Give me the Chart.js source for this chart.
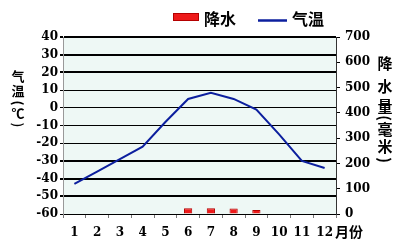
<!DOCTYPE html>
<html lang="zh">
<head>
    <meta charset="UTF-8">
    <title>气温与降水</title>
    <style>
        html, body { margin: 0; padding: 0; background: #fff; }
        #wrap { width: 406px; height: 250px; }
    </style>
</head>
<body>

<div id="wrap">
    <canvas id="myChart" width="406" height="250" role="img" aria-label="气温与降水量图"></canvas>
</div>

<script src="https://cdn.jsdelivr.net/npm/chart.js@4/dist/chart.umd.min.js"></script>

<script>
    // data
    var months = ['1', '2', '3', '4', '5', '6', '7', '8', '9', '10', '11', '12'];
    var temperature = [-43, -36, -29, -22, -8, 5, 8.5, 5, -1, -15, -30, -34];
    var precipitation = [0, 0, 0, 0, 2, 23, 23, 22, 16, 2, 2, 0];
    var tempTicks = [-60, 40, 10];     // min, max, step
    var rainTicks = [0, 700, 100];

    // gridlines that are drawn heavier in the original
    var heavyLines = [40, 30, 20, -30, -40, -50];

    var numFont = { family: 'DejaVu Serif', weight: 'bold', size: 12 };
    var cjkFont = '"Noto Sans CJK SC", "Noto Sans", sans-serif';

    // vertical title, one char per row; brackets are turned on their side
    function drawColumn(ctx, chars, x, ys, size) {
        ctx.font = 'bold ' + size + 'px ' + cjkFont;
        ctx.textAlign = 'center';
        ctx.textBaseline = 'middle';
        for (var i = 0; i < chars.length; i++) {
            if (chars[i] === '(' || chars[i] === ')') {
                ctx.save();
                ctx.translate(x, ys[i]);
                ctx.rotate(Math.PI / 2);
                ctx.fillText(chars[i], 0, 0);
                ctx.restore();
            } else {
                ctx.fillText(chars[i], x, ys[i]);
            }
        }
    }

    var decorations = {
        id: 'decorations',
        beforeDraw: function (chart) {
            var ctx = chart.ctx;
            var a = chart.chartArea;
            ctx.save();
            ctx.fillStyle = '#eef8f5';
            ctx.fillRect(a.left, a.top, a.right - a.left, a.bottom - a.top);
            ctx.restore();
        },
        afterDraw: function (chart) {
            var ctx = chart.ctx;
            var ds = chart.data.datasets;
            ctx.save();

            // legend
            ctx.fillStyle = ds[0].backgroundColor;
            ctx.strokeStyle = ds[0].borderColor;
            ctx.lineWidth = 1;
            ctx.fillRect(173, 13, 26, 8);
            ctx.strokeRect(173.5, 13.5, 25, 7);
            ctx.fillStyle = '#000';
            ctx.font = 'bold 16px ' + cjkFont;
            ctx.textAlign = 'left';
            ctx.textBaseline = 'middle';
            ctx.fillText(ds[0].label, 204, 19);

            ctx.strokeStyle = ds[1].borderColor;
            ctx.lineWidth = 2.5;
            ctx.beginPath();
            ctx.moveTo(258, 20.5);
            ctx.lineTo(287, 20.5);
            ctx.stroke();
            ctx.fillText(ds[1].label, 292, 19);

            // axis titles
            drawColumn(ctx, ['气', '温', '(', '℃', ')'], 18, [76, 91, 103, 113, 125], 13);
            drawColumn(ctx, ['降', '水', '量', '(', '毫', '米', ')'], 385, [63, 86, 106, 118, 129, 146, 160], 15);

            ctx.font = 'bold 14px ' + cjkFont;
            ctx.textAlign = 'left';
            ctx.fillText('月份', 335, 232);
            ctx.restore();
        }
    };

    var ctx = document.getElementById('myChart').getContext('2d');
    var myChart = new Chart(ctx, {
        type: 'bar',
        data: {
            labels: months,
            datasets: [
                {
                    label: '降水',
                    data: precipitation,
                    yAxisID: 'y1',
                    backgroundColor: '#ee1a1a',
                    borderColor: '#b40000',
                    borderWidth: 1,
                    barPercentage: 0.4,
                    categoryPercentage: 0.9,
                    order: 2
                },
                {
                    type: 'line',
                    label: '气温',
                    data: temperature,
                    yAxisID: 'y',
                    borderColor: '#0c1f9e',
                    borderWidth: 2,
                    pointRadius: 0,
                    tension: 0,
                    order: 1
                }
            ]
        },
        options: {
            responsive: false,
            animation: false,
            layout: { padding: { top: 37, left: 0, right: 0, bottom: 0 } },
            plugins: {
                legend: { display: false },
                tooltip: { enabled: false }
            },
            scales: {
                x: {
                    offset: true,
                    grid: { offset: true, drawOnChartArea: false, tickLength: 4, color: '#777' },
                    border: { color: '#000', width: 1 },
                    ticks: { font: numFont, color: '#000', padding: 8, maxRotation: 0 },
                    afterFit: function (scale) { scale.height = 36; }
                },
                y: {
                    position: 'left',
                    min: tempTicks[0],
                    max: tempTicks[1],
                    ticks: { stepSize: tempTicks[2], font: numFont, color: '#000', padding: 2 },
                    grid: {
                        color: '#000',
                        tickLength: 3,
                        lineWidth: function (c) {
                            return c.tick && heavyLines.indexOf(c.tick.value) >= 0 ? 2 : 1;
                        }
                    },
                    border: { color: '#999', width: 1 },
                    afterFit: function (scale) { scale.width = 63; }
                },
                y1: {
                    position: 'right',
                    min: rainTicks[0],
                    max: rainTicks[1],
                    ticks: { stepSize: rainTicks[2], font: numFont, color: '#000', padding: 5 },
                    grid: { drawOnChartArea: false, color: '#000', tickLength: 4 },
                    border: { color: '#333', width: 1 },
                    afterFit: function (scale) { scale.width = 70; }
                }
            }
        },
        plugins: [decorations]
    });
</script>

</body>
</html>
